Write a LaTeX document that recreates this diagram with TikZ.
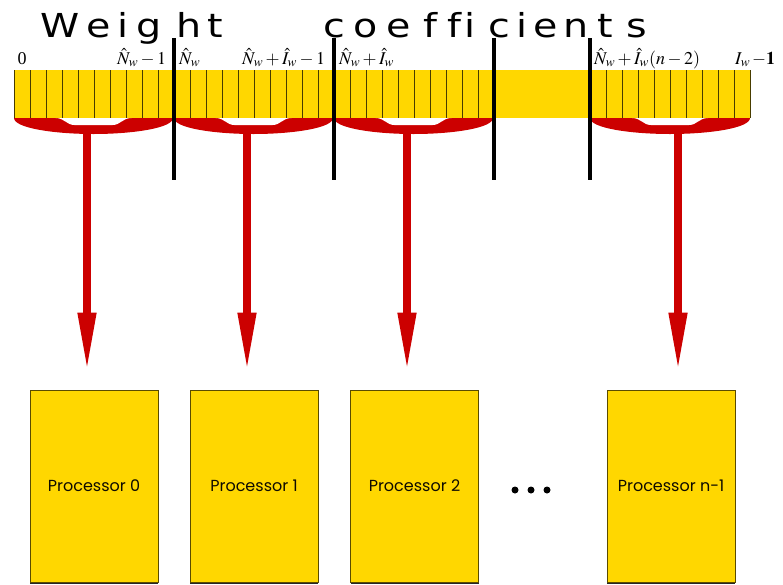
\documentclass[tikz,border=0pt]{standalone}
\usepackage{mathptmx}
\usepackage{fontspec}
\setmainfont{Liberation Serif}
\newfontfamily\titlefont[FakeStretch=1.2]{DejaVu Sans}
\newfontfamily\procfont{Poppins}
\usetikzlibrary{arrows.meta,shadows}

\definecolor{gold}{RGB}{255,215,0}
\definecolor{bracketred}{RGB}{204,0,0}
\definecolor{edgeolive}{RGB}{90,75,0}

\tikzset{
  titleletter/.style={font=\titlefont\fontsize{33}{33}\selectfont, anchor=base, inner sep=0pt},
  idxlabel/.style={font=\fontsize{18}{18}\selectfont, anchor=base west, inner sep=0pt},
  celltick/.style={draw=edgeolive!80!black, line width=0.7pt},
  divider/.style={draw=black, line width=4.5pt},
  flow/.style={draw=bracketred, line width=7.5pt,
    -{Triangle[width=17pt,length=59pt]}, shorten >=18pt},
  procbox/.style={draw=edgeolive, line width=0.8pt, fill=gold,
    minimum width=128pt, minimum height=192pt, inner sep=0pt,
    font=\procfont\fontsize{16}{16}\selectfont, text=black!85!edgeolive,
    drop shadow={shadow xshift=0pt, shadow yshift=-2pt, fill=black!85, opacity=1}},
  dotmark/.style={circle, fill=black, minimum size=7pt, inner sep=0pt},
}

\begin{document}
\begin{tikzpicture}[x=1pt, y=-1pt]
\useasboundingbox (0,0) rectangle (783,584);

% heading, letter by letter
\foreach \ch/\xx [count=\k] in {W/60,e/99,i/123,g/149,h/189,t/215,
    c/334,o/366,e/399,f/430,f/454,i/470,c/499,i/522,e/546,n/576,t/605,s/637}
  \node[titleletter] (title\k) at (\xx,37) {\ch};

% coefficient array
\fill[gold] (14,70) rectangle (750,118);
\foreach \i in {0,...,30}
  \draw[celltick] ({14+16*\i},70) -- ({14+16*\i},118);
\foreach \i in {0,...,10}
  \draw[celltick] ({590+16*\i},70) -- ({590+16*\i},118);

% index labels
\node[idxlabel, anchor=base] (l0) at (22,64) {0};
\node[idxlabel] (l1) at (117,64) {$\hat N_w-1$};
\node[idxlabel] (l2) at (179,64) {$\hat N_w$};
\node[idxlabel] (l3) at (242,64) {$\hat N_w+\hat I_w-1$};
\node[idxlabel] (l4) at (339,64) {$\hat N_w+\hat I_w$};
\node[idxlabel] (l5) at (594,64) {$\hat N_w+\hat I_w(n-2)$};
\node[idxlabel] (l6) at (735,64) {$I_w\,\mathbf{-1}$};

% brackets gathering each block of coefficients
\foreach \L/\R/\S [count=\k from 0] in {14/173/87, 174/333/247, 334/493/407, 590/750/678} {
  \pgfmathsetmacro{\M}{(\L+\R)/2}
  \fill[bracketred] (\L,118) .. controls (\L,128) and ({\L+40},134) .. (\M,134)
    .. controls ({\R-40},134) and (\R,128) .. (\R,118) -- cycle;
  \fill[white] ({\M-38},118) .. controls ({\M-29},118) and ({\M-27},125) .. ({\M-19},125)
    -- ({\M+19},125) .. controls ({\M+27},125) and ({\M+29},118) .. ({\M+38},118) -- cycle;
  \coordinate (s\k) at (\S,130);
}

% block boundaries
\foreach \xx in {174,334,494,590}
  \draw[divider] (\xx,38) -- (\xx,180);

% processors
\node[procbox] (p0) at (94,486) {Processor 0};
\node[procbox] (p1) at (254,486) {Processor 1};
\node[procbox] (p2) at (414.5,486) {Processor 2};
\node[procbox] (p3) at (671,486) {Processor n-1};

\node[dotmark] (dot1) at (515,490) {};
\node[dotmark] (dot2) at (531,490) {};
\node[dotmark] (dot3) at (547,490) {};

% distribution arrows
\draw[flow] (s0) -- (s0 |- p0.north);
\draw[flow] (s1) -- (s1 |- p1.north);
\draw[flow] (s2) -- (s2 |- p2.north);
\draw[flow] (s3) -- (s3 |- p3.north);
\end{tikzpicture}
\end{document}
